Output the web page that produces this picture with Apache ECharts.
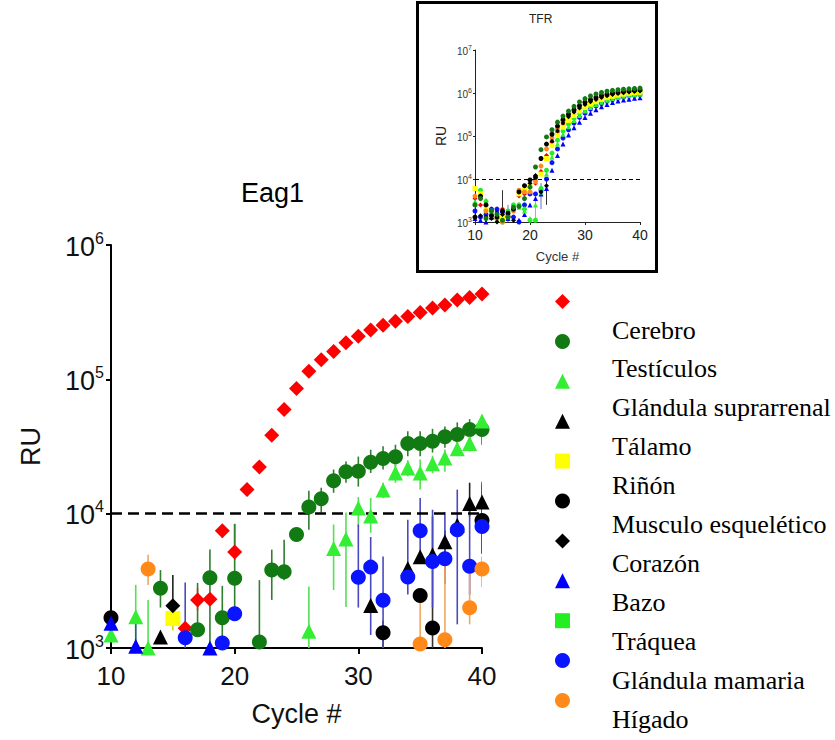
<!DOCTYPE html>
<html>
<head>
<meta charset="utf-8">
<script src="https://cdn.jsdelivr.net/npm/echarts@6/dist/echarts.min.js"></script>
<style>html,body{margin:0;padding:0;background:#fff}#c{width:835px;height:740px}</style>
</head>
<body>
<div id="c"></div>
<script>
// ---------- Main chart (Eag1) data: [cycle, RU] ----------
const tissues = ['Cerebro','Testículos','Glándula suprarrenal','Tálamo','Riñón','Musculo esquelético','Corazón','Bazo','Tráquea','Glándula mamaria','Hígado'];
const xTicks = [10, 20, 30, 40];
const yTickValues = [1000, 10000, 100000, 1000000];
const yTickExps = ['3', '4', '5', '6'];
const insetYTickValues = [1000, 10000, 100000, 1000000, 10000000];
const insetYTickExps = ['3', '4', '5', '6', '7'];
const threshold = 10000;

const cerebro = [[16,1400],[17,2280],[18,2310],[19,7470],[20,5180],[21,15100],[22,22300],[23,38400],[24,59700],[25,85300],[26,115000],[27,140000],[28,161000],[29,187000],[30,209000],[31,233000],[32,253000],[33,271000],[34,294000],[35,315000],[36,339000],[37,358000],[38,389000],[39,407000],[40,431000]];
const cerebroErr = [[17,1900,2800],[19,6600,8000],[20,4500,8400]];

const testiculos = [[14,2780],[17,1370],[18,3330],[19,1680],[20,3310],[22,1110],[23,3800],[24,3700],[25,7000],[26,11200],[27,12900],[28,17600],[29,20500],[30,20700],[31,24100],[32,25700],[33,26500],[34,33300],[35,33300],[36,34600],[37,37300],[38,38900],[39,42400],[40,42400]];
const testiculosErr = [[14,2000,3800],[17,1300,3050],[18,1000,5400],[19,1000,2900],[20,1900,8400],[22,1000,3200],[23,2280,5400],[24,3200,6400],[26,7600,14800],[27,10200,15600],[28,14300,21300],[29,17000,24500],[30,15900,26600],[31,20100,29900],[32,21300,31700],[33,22400,32600],[34,26700,41000],[35,26700,41000],[36,28500,42800],[37,31000,44500],[38,31700,47800],[39,35500,50500],[40,32600,50500]];

const suprarrenal = [[10,1250],[12,1710],[13,1000],[26,1330],[28,5500],[29,6470],[30,11000],[31,9600],[32,15000],[33,20100],[34,21900],[35,20100],[36,23500],[37,26000],[38,30400],[39,33300],[40,48900]];
const suprarrenalErr = [[12,1000,2950],[13,1000,2280],[26,1000,2870],[28,2700,8300],[29,2020,10200],[30,8000,13300],[31,7200,13100],[32,13000,17000],[33,17000,25300],[34,19000,25000],[35,15100,25300],[36,20000,27000],[37,20500,30000],[38,27000,34000],[39,29000,38000],[40,44000,54000]];

const talamo = [[14,1210],[31,2070],[34,3900],[35,4780],[36,4940],[37,6180],[38,8200],[39,11900],[40,12200]];
const talamoErr = [[37,5000,7500],[39,9500,17000],[40,10000,16500]];

const rinon = [[15,1660]];
const rinonErr = [[15,1350,1900]];

const musculo = [[10,1680],[32,1300],[35,2460],[36,1410],[40,8900]];
const musculoErr = [[32,1000,1600],[36,1000,9500],[40,5100,11000]];

const corazon = [[15,2060]];
const corazonErr = [[15,1700,3500]];

const bazo = [[10,1530],[12,1030],[18,1000]];
const bazoErr = [[12,1000,1710]];

const traquea = [];
const traqueaErr = [];

const mamaria = [[16,1190],[19,1090],[20,1800],[30,3360],[31,4000],[32,2270],[34,3380],[35,7470],[36,4400],[37,4620],[38,7600],[39,4060],[40,8040]];
const mamariaErr = [[16,1000,3070],[30,2000,8300],[31,1250,6700],[32,1000,4800],[34,2500,9000],[35,4800,13100],[36,2000,10700],[37,3000,10300],[38,1500,15100],[39,2500,11000],[40,5000,17300]];

const higado = [[13,3870],[35,1070],[37,1150],[39,1990],[40,3870]];
const higadoErr = [[13,2950,4950],[35,1000,2220],[37,1000,4540],[39,1500,3820],[40,2850,4800]];

// ---------- Inset (TFR) data: values for cycles 10..40 ----------
const insetCycles = [10,11,12,13,14,15,16,17,18,19,20,21,22,23,24,25,26,27,28,29,30,31,32,33,34,35,36,37,38,39,40];
const tfrTesticulos = [2500,3500,1200,1800,1500,1100,1300,2200,2300,3500,6500,19000,48000,95000,140000,210000,290000,380000,490000,620000,740000,850000,950000,1030000,1100000,1150000,1190000,1220000,1250000,1270000,1300000];
const tfrMusculo = [1300,4000,2500,1400,1300,1800,1600,2000,5000,7000,9500,11000,30000,65000,110000,170000,240000,320000,410000,510000,610000,700000,790000,870000,930000,990000,1040000,1080000,1120000,1150000,1180000];
const tfrHigado = [4000,3800,1800,1500,1200,1000,1400,1800,5500,5000,5000,9000,20000,50000,90000,150000,220000,300000,390000,490000,590000,680000,770000,850000,920000,980000,1030000,1080000,1120000,1160000,1200000];
const tfrCerebro = [3500,2500,2500,1500,1800,2000,1400,null,4000,4500,5000,8000,15000,35000,70000,120000,180000,250000,330000,420000,510000,600000,680000,760000,830000,890000,940000,990000,1030000,1060000,1090000];
const tfrRinon = [6000,4500,2000,1500,null,1300,null,null,4500,5500,7000,9000,13000,30000,60000,105000,160000,230000,300000,380000,460000,550000,630000,710000,780000,840000,890000,940000,980000,1010000,1040000];
const tfrTraquea = [2500,5500,3000,1800,1200,1000,1800,2500,2500,2000,1100,1100,6000,16000,40000,80000,130000,190000,260000,340000,420000,500000,580000,650000,720000,780000,830000,880000,920000,950000,980000];
const tfrSuprarrenal = [3000,5000,2000,1300,1100,1200,1500,2000,2200,1800,1200,2500,5000,13000,32000,65000,110000,165000,230000,300000,380000,460000,540000,610000,680000,740000,790000,840000,880000,910000,940000];
const tfrMamaria = [1800,1300,1500,2000,2000,1700,1300,1300,1000,2500,4500,4500,5500,10000,24000,50000,90000,140000,200000,270000,340000,420000,500000,570000,640000,700000,750000,800000,840000,880000,910000];
const tfrBazo = [1200,1100,1000,1300,1800,1500,1200,null,1100,1500,2500,3500,4500,6000,16000,35000,65000,105000,155000,210000,270000,340000,410000,480000,540000,600000,650000,690000,720000,750000,780000];
const tfrCorazon = [1300,1400,1300,1200,1000,1500,1300,1100,null,null,8000,12000,5000,7000,75000,130000,200000,280000,360000,450000,540000,630000,710000,790000,860000,920000,970000,1010000,1050000,1080000,1110000];
const tfrErr = [[15,1000,5500,'#333'],[21,1000,4000,'#66dd66'],[22,2000,8000,'#6a6ad0'],[23,2500,9000,'#333'],[12,1000,3500,'#333'],[16,1000,2500,'#6a6ad0']];

// ---------- styles ----------
const colors = ['#ff0000','#127a12','#33ee33','#000000','#ffff00','#000000','#000000','#0000ff','#22ee22','#0a14ff','#ff8a1a'];
const errColors = ['#ff4040','#2f7f2f','#55e055','#222222','#e0d000','#333333','#222222','#4646b4','#55e055','#4a4ac0','#f0a860'];
const symbols = ['diamond','circle','triangle','triangle','rect','circle','diamond','triangle','rect','circle','circle'];
const mainData = [cerebro,testiculos,suprarrenal,talamo,rinon,musculo,corazon,bazo,traquea,mamaria,higado];
const errData = [cerebroErr,testiculosErr,suprarrenalErr,talamoErr,rinonErr,musculoErr,corazonErr,bazoErr,traqueaErr,mamariaErr,higadoErr];
const insetSets = [
  [tfrCerebro,'#ff0000','diamond'],[tfrMamaria,'#0a14ff','circle'],[tfrBazo,'#0000ff','triangle'],
  [tfrTraquea,'#22ee22','circle'],[tfrSuprarrenal,'#33ee33','triangle'],[tfrRinon,'#ffff00','rect'],
  [tfrHigado,'#ff8a1a','circle'],[tfrCorazon,'#000000','diamond'],[tfrMusculo,'#000000','circle'],[tfrTesticulos,'#127a12','circle']
];

function supFormatter(vals, exps) {
  return function (v) {
    for (let i = 0; i < vals.length; i++) {
      if (Math.abs(v - vals[i]) / vals[i] < 1e-6) return '{b|10}{s|' + exps[i] + '}';
    }
    return '';
  };
}
function errRender(color, width) {
  return function (params, api) {
    const x = api.value(0);
    const p1 = api.coord([x, api.value(1)]);
    const p2 = api.coord([x, api.value(2)]);
    const c = api.value(3);
    return { type: 'line', shape: { x1: p1[0], y1: p1[1], x2: p2[0], y2: p2[1] },
      style: { stroke: (typeof c === 'string' && c) ? c : color, lineWidth: width } };
  };
}

const series = [];
tissues.forEach((name, i) => {
  const s = {
    name: name, type: 'scatter', xAxisIndex: 0, yAxisIndex: 0,
    symbol: symbols[i], symbolSize: 15,
    itemStyle: { color: colors[i], opacity: 1 }, z: 5,
    data: mainData[i]
  };
  if (i === 0) {
    s.markLine = { silent: true, symbol: 'none', label: { show: false },
      lineStyle: { color: '#000', width: 2.5, type: [11, 6] }, data: [{ yAxis: threshold }] };
  }
  series.push(s);
});
tissues.forEach((name, i) => {
  series.push({ name: name, type: 'custom', xAxisIndex: 0, yAxisIndex: 0, z: 2, clip: true,
    renderItem: errRender(errColors[i], 1.6), encode: { x: 0, y: [1, 2] }, data: errData[i] });
});
insetSets.forEach((d, i) => {
  series.push({ name: 'TFR-' + i, type: 'scatter', xAxisIndex: 1, yAxisIndex: 1, z: 4,
    symbol: d[2], symbolSize: 5, itemStyle: { color: d[1], opacity: 1 },
    data: insetCycles.map((c, k) => [c, d[0][k]]).filter(p => p[1] != null),
    markLine: i === 0 ? { silent: true, symbol: 'none', label: { show: false },
      lineStyle: { color: '#000', width: 1.2, type: [4, 3] }, data: [{ yAxis: threshold }] } : undefined });
});
series.push({ name: 'TFR-err', type: 'custom', xAxisIndex: 1, yAxisIndex: 1, z: 3, clip: true,
  renderItem: errRender('#333', 1), encode: { x: 0, y: [1, 2] }, data: tfrErr });

const chart = echarts.init(document.getElementById('c'), null, { renderer: 'svg' });
chart.setOption({
  animation: false,
  backgroundColor: '#fff',
  title: [
    { text: 'Eag1', left: 236, top: 174, textStyle: { fontFamily: 'Liberation Sans', fontSize: 27, fontWeight: 'normal', color: '#000' } },
    { text: 'TFR', left: 524, top: 8, textStyle: { fontFamily: 'Liberation Sans', fontSize: 12, fontWeight: 'normal', color: '#222' } }
  ],
  graphic: [
    { type: 'rect', left: 415, top: 0, shape: { width: 239, height: 269 }, style: { fill: 'none', stroke: '#000', lineWidth: 3 }, z: 10 }
  ],
  legend: [
    { data: tissues, orient: 'vertical', left: 555, top: 294, padding: 0, itemWidth: 15, itemHeight: 15, itemGap: 24.9,
      formatter: function () { return ''; }, textStyle: { fontSize: 1, lineHeight: 1 } },
    { data: tissues, orient: 'vertical', left: 607, top: 317, padding: 0, icon: 'none', itemWidth: 0, itemHeight: 14, itemGap: 12.9,
      textStyle: { fontFamily: 'Liberation Serif', fontSize: 26, lineHeight: 26, color: '#000' } }
  ],
  grid: [
    { left: 111, right: 353, top: 245, bottom: 92 },
    { left: 475, width: 165, top: 50, height: 172 }
  ],
  xAxis: [
    { type: 'value', gridIndex: 0, min: 10, max: 40, interval: 10,
      name: 'Cycle #', nameLocation: 'middle', nameGap: 52,
      nameTextStyle: { fontFamily: 'Liberation Sans', fontSize: 27, color: '#111' },
      axisLine: { lineStyle: { color: '#000', width: 2 } },
      axisTick: { length: 6, lineStyle: { color: '#000', width: 2 } },
      axisLabel: { margin: 15, fontFamily: 'Liberation Sans', fontSize: 26, color: '#111',
        formatter: function (v) { return xTicks.indexOf(v) >= 0 ? String(v) : ''; } },
      splitLine: { show: false } },
    { type: 'value', gridIndex: 1, min: 10, max: 40, interval: 10,
      name: 'Cycle #', nameLocation: 'middle', nameGap: 28,
      nameTextStyle: { fontFamily: 'Liberation Sans', fontSize: 13, color: '#333' },
      axisLine: { lineStyle: { color: '#222', width: 1 } },
      axisTick: { length: 3, lineStyle: { color: '#222', width: 1 } },
      axisLabel: { margin: 6, fontFamily: 'Liberation Sans', fontSize: 14, color: '#222' },
      splitLine: { show: false } }
  ],
  yAxis: [
    { type: 'log', logBase: 10, gridIndex: 0, min: 1000, max: 1000000,
      name: 'RU', nameLocation: 'middle', nameGap: 67, nameRotate: 90,
      nameTextStyle: { fontFamily: 'Liberation Sans', fontSize: 27, color: '#111' },
      axisLine: { show: true, lineStyle: { color: '#000', width: 2 } },
      axisTick: { show: true, length: 5, lineStyle: { color: '#000', width: 2 } },
      minorTick: { show: false },
      axisLabel: { margin: 7, formatter: supFormatter(yTickValues, yTickExps),
        rich: { b: { fontFamily: 'Liberation Sans', fontSize: 27, color: '#111', lineHeight: 30, verticalAlign: 'bottom' },
                s: { fontFamily: 'Liberation Sans', fontSize: 16, color: '#111', lineHeight: 16, verticalAlign: 'top' } } },
      splitLine: { show: false } },
    { type: 'log', logBase: 10, gridIndex: 1, min: 1000, max: 10000000,
      name: 'RU', nameLocation: 'middle', nameGap: 27, nameRotate: 90,
      nameTextStyle: { fontFamily: 'Liberation Sans', fontSize: 14, color: '#222' },
      axisLine: { show: true, lineStyle: { color: '#222', width: 1 } },
      axisTick: { show: true, length: 2, lineStyle: { color: '#222', width: 1 } },
      minorTick: { show: false },
      axisLabel: { margin: 3, formatter: supFormatter(insetYTickValues, insetYTickExps),
        rich: { b: { fontFamily: 'Liberation Sans', fontSize: 10, color: '#333', lineHeight: 12, verticalAlign: 'bottom' },
                s: { fontFamily: 'Liberation Sans', fontSize: 7, color: '#333', lineHeight: 7, verticalAlign: 'top' } } },
      splitLine: { show: false } }
  ],
  series: series
});
</script>
</body>
</html>
